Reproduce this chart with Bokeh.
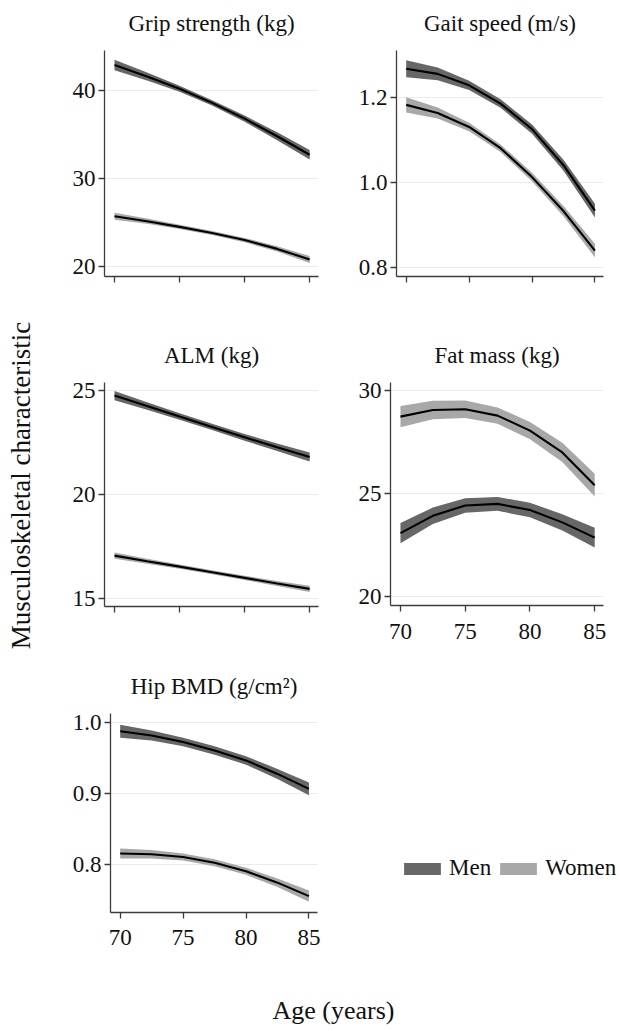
from math import pi
from bokeh.plotting import figure
from bokeh.layouts import row, column
from bokeh.models import (Range1d, FixedTicker, PrintfTickFormatter, CustomJSTickFormatter,
                          Legend, LegendItem, Label)
from bokeh.embed import file_html
from bokeh.resources import INLINE

FONT = "Liberation Serif"
MEN_COLOR = "#676767"
WOMEN_COLOR = "#a8a8a8"

# ---------------- data ----------------
ages = [70, 72.5, 75, 77.5, 80, 82.5, 85]
age_ticks = [70, 75, 80, 85]

grip_men = [42.9, 41.6, 40.2, 38.6, 36.8, 34.8, 32.7]
grip_men_ci = [0.6, 0.45, 0.35, 0.3, 0.35, 0.45, 0.55]
grip_women = [25.7, 25.15, 24.5, 23.8, 23.0, 22.0, 20.8]
grip_women_ci = [0.4, 0.3, 0.25, 0.22, 0.25, 0.3, 0.4]
grip_ticks = [20, 30, 40]

gait_men = [1.267, 1.255, 1.228, 1.185, 1.125, 1.04, 0.933]
gait_men_ci = [0.02, 0.015, 0.011, 0.01, 0.011, 0.013, 0.016]
gait_women = [1.182, 1.163, 1.13, 1.08, 1.012, 0.932, 0.839]
gait_women_ci = [0.018, 0.013, 0.01, 0.009, 0.01, 0.012, 0.016]
gait_ticks = [0.8, 1.0, 1.2]

alm_men = [24.76, 24.26, 23.75, 23.25, 22.75, 22.27, 21.8]
alm_men_ci = [0.22, 0.18, 0.16, 0.15, 0.16, 0.18, 0.22]
alm_women = [17.05, 16.78, 16.52, 16.25, 15.98, 15.71, 15.45]
alm_women_ci = [0.15, 0.12, 0.1, 0.1, 0.1, 0.12, 0.15]
alm_ticks = [15, 20, 25]

fat_men = [23.08, 23.92, 24.42, 24.5, 24.2, 23.6, 22.86]
fat_men_ci = [0.49, 0.4, 0.35, 0.34, 0.35, 0.4, 0.48]
fat_women = [28.74, 29.06, 29.1, 28.79, 28.06, 27.0, 25.41]
fat_women_ci = [0.52, 0.45, 0.42, 0.4, 0.42, 0.47, 0.55]
fat_ticks = [20, 25, 30]

hip_men = [0.987, 0.981, 0.972, 0.96, 0.946, 0.927, 0.906]
hip_men_ci = [0.009, 0.007, 0.006, 0.006, 0.006, 0.007, 0.009]
hip_women = [0.815, 0.814, 0.81, 0.802, 0.79, 0.774, 0.755]
hip_women_ci = [0.007, 0.006, 0.005, 0.005, 0.005, 0.006, 0.008]
hip_ticks = [0.8, 0.9, 1.0]

titles = ["Grip strength (kg)", "Gait speed (m/s)", "ALM (kg)", "Fat mass (kg)",
          "Hip BMD (g/cm\u00b2)"]
legend_labels = ["Men", "Women"]
x_title = "Age (years)"
y_title = "Musculoskeletal characteristic"


def blank(width, height):
    f = figure(width=width, height=height, x_range=Range1d(0, 1), y_range=Range1d(0, 1),
               x_axis_type=None, y_axis_type=None, output_backend="svg",
               toolbar_location=None, min_border=0)
    f.outline_line_color = None
    f.xgrid.visible = False
    f.ygrid.visible = False
    return f


def band(p, y, hw, color):
    lo = [a - b for a, b in zip(y, hw)]
    hi = [a + b for a, b in zip(y, hw)]
    p.varea(x=ages, y1=lo, y2=hi, fill_color=color, fill_alpha=1.0)
    p.line(x=ages, y=y, line_color="black", line_width=2.1)


def panel(title, yr, yticks, yfmt, show_x, width, height, bl, br, bt, bb, xstand=4):
    th = bt - 10
    fw = width - bl - br
    # title strip above the panel (its frame is aligned with the panel frame)
    tf = blank(width, th)
    tf.add_layout(Label(x=fw / 2, y=17, x_units="screen", y_units="screen",
                        text=title, text_align="center", text_baseline="alphabetic",
                        text_font=FONT, text_font_size="23px", text_color="#111111"))
    p = figure(width=width, height=height - th, x_range=Range1d(69.23, 85.68),
               y_range=Range1d(*yr), output_backend="svg", toolbar_location=None,
               min_border_left=bl, min_border_right=br, min_border_top=10,
               min_border_bottom=bb)
    p.outline_line_color = None
    p.background_fill_color = "white"
    p.border_fill_color = "white"
    p.xgrid.visible = False
    p.ygrid.grid_line_color = "#ebebeb"
    p.ygrid.grid_line_width = 1.2
    p.xaxis.ticker = FixedTicker(ticks=age_ticks)
    p.yaxis.ticker = FixedTicker(ticks=yticks)
    if yfmt:
        p.yaxis.formatter = PrintfTickFormatter(format=yfmt)
    if not show_x:
        p.xaxis.formatter = CustomJSTickFormatter(code="return ''")
    for ax in (p.xaxis[0], p.yaxis[0]):
        ax.axis_line_color = "#3c3c3c"
        ax.axis_line_width = 1.3
        ax.major_tick_line_color = "#3c3c3c"
        ax.major_tick_line_width = 1.3
        ax.major_tick_out = 6
        ax.major_tick_in = 0
        ax.minor_tick_line_color = None
        ax.major_label_text_font = FONT
        ax.major_label_text_font_size = "23px"
        ax.major_label_text_color = "#111111"
    p.yaxis.major_label_standoff = 3
    p.xaxis.major_label_standoff = xstand
    return p, column(tf, p)


p1, c1 = panel(titles[0], (18.86, 44.55), grip_ticks, None, False, 290, 318, 64, 12, 50, 42)
band(p1, grip_men, grip_men_ci, MEN_COLOR)
band(p1, grip_women, grip_women_ci, WOMEN_COLOR)

p2, c2 = panel(titles[1], (0.778, 1.31), gait_ticks, "%.1f", False, 290, 318, 66, 17, 50, 42)
band(p2, gait_men, gait_men_ci, MEN_COLOR)
band(p2, gait_women, gait_women_ci, WOMEN_COLOR)

p3, c3 = panel(titles[2], (14.6, 25.39), alm_ticks, None, False, 290, 332, 64, 12, 64, 44)
band(p3, alm_men, alm_men_ci, MEN_COLOR)
band(p3, alm_women, alm_women_ci, WOMEN_COLOR)

p4, c4 = panel(titles[3], (19.56, 30.4), fat_ticks, None, True, 290, 332, 60, 17, 64, 45, 12)
band(p4, fat_men, fat_men_ci, MEN_COLOR)
band(p4, fat_women, fat_women_ci, WOMEN_COLOR)

p5, c5 = panel(titles[4], (0.732, 1.012), hip_ticks, "%.1f", True, 290, 310, 70, 13, 63, 48, 11)
band(p5, hip_men, hip_men_ci, MEN_COLOR)
band(p5, hip_women, hip_women_ci, WOMEN_COLOR)

# legend panel
lf = blank(290, 310)
# legend proxies (zero-height areas below the visible range)
rm = lf.varea(x=[0, 1], y1=[-1, -1], y2=[-1, -1], fill_color=MEN_COLOR)
rw = lf.varea(x=[0, 1], y1=[-1, -1], y2=[-1, -1], fill_color=WOMEN_COLOR)
leg = Legend(items=[LegendItem(label=legend_labels[0], renderers=[rm]),
                    LegendItem(label=legend_labels[1], renderers=[rw])],
             orientation="horizontal", location=(69, 79), padding=0, margin=0,
             spacing=4, glyph_width=46, glyph_height=15, label_height=15,
             label_standoff=4, border_line_color=None, background_fill_alpha=0,
             label_text_font=FONT, label_text_font_size="23px",
             label_text_color="#111111")
lf.add_layout(leg)

# y title
yf = blank(40, 1031)
yf.add_layout(Label(x=20, y=546, x_units="screen", y_units="screen", text=y_title,
                    angle=pi / 2, text_align="center", text_baseline="middle",
                    text_font=FONT, text_font_size="27px", text_color="#111111"))

# x title
xf = blank(580, 71)
xf.add_layout(Label(x=293, y=21, x_units="screen", y_units="screen", text=x_title,
                    text_align="center", text_baseline="middle",
                    text_font=FONT, text_font_size="26px", text_color="#111111"))

layout = row(yf, column(row(c1, c2), row(c3, c4), row(c5, lf), xf))

open("out.html", "w").write(file_html(layout, INLINE))
